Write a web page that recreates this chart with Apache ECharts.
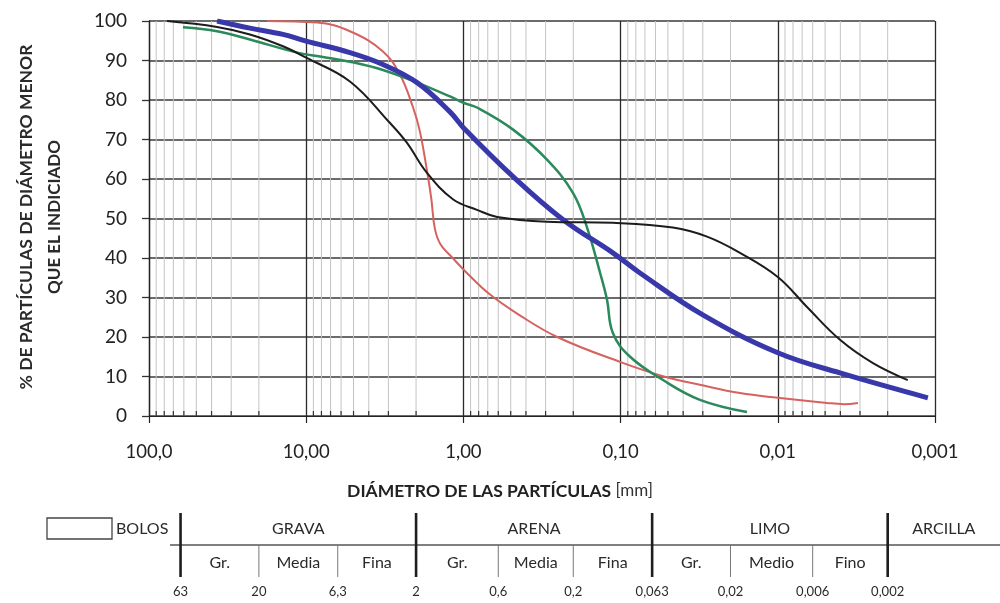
<!DOCTYPE html>
<html>
<head>
<meta charset="utf-8">
<script src="https://cdn.jsdelivr.net/npm/echarts@6/dist/echarts.min.js"></script>
<style>
    html, body { margin: 0; padding: 0; background: #fff; }
    #chart { width: 1000px; height: 603px; }
</style>
</head>
<body>
<div id="chart"></div>
<script>
const FONT = 'Lato, "Open Sans", sans-serif';

/* ========== Curvas granulométricas: [diámetro mm, % que pasa] ========== */
const curvaNegra = [
    [76.7, 100], [36.9, 98.5], [22.8, 96.6], [14.05, 93.6], [10, 90.7], [5.27, 84.7],
    [2.95, 74.3], [2.29, 69.2], [1.71, 61.6], [1.16, 54.8], [0.82, 52.2], [0.61, 50.4],
    [0.294, 49.2], [0.112, 48.9], [0.0465, 47.7], [0.0282, 45.4], [0.0174, 41.3],
    [0.01, 35.2], [0.00652, 27.6], [0.00402, 19.3], [0.00248, 13.4], [0.00149, 9.1]
];
const curvaAzul = [
    [36.9, 100], [22.8, 98.2], [14.05, 96.6], [10, 94.9], [5.27, 92.0], [3.25, 89.0],
    [1.97, 84.4], [1.217, 77], [1.0, 73], [0.483, 60.6], [0.232, 49.7], [0.112, 41.3],
    [0.0753, 36.2], [0.03, 25.6], [0.01, 16.0], [0.00402, 10.9], [0.00111, 4.6]
];
const curvaRoja = [
    [17.7, 100], [8.53, 99.6], [5.27, 97.4], [3.25, 92.3], [2.53, 86.4], [2.09, 78.1],
    [1.89, 72], [1.71, 62.4], [1.6, 55], [1.52, 47.5], [1.4, 43.5], [1.17, 40],
    [0.95, 36.2], [0.68, 30.8], [0.45, 25.8], [0.253, 20], [0.101, 13.7], [0.053, 10],
    [0.0313, 7.9], [0.0174, 5.8], [0.01, 4.6], [0.00486, 3.3], [0.0038, 3.0], [0.00309, 3.3]
];
const curvaVerde = [
    [60.8, 98.4], [36.9, 97.4], [22.8, 95.3], [11.4, 92.0], [7.82, 90.9], [5.27, 89.7],
    [3.25, 87.6], [1.97, 84.4], [1.217, 80.9], [1.0, 79.3], [0.82, 78.1], [0.483, 72.5],
    [0.294, 64.9], [0.201, 56.5], [0.164, 47.9], [0.135, 36.2], [0.122, 29.4], [0.112, 21.0],
    [0.087, 15.0], [0.0537, 9.1], [0.0313, 4.1], [0.0157, 1.0]
];

// etiquetas del eje de diámetros (de 0,001 a 100)
const xTickLabels = ["0,001", "0,01", "0,10", "1,00", "10,00", "100,0"];

/* ========== Clasificación de suelos ========== */
const limitesValor = [63, 20, 6.3, 2, 0.6, 0.2, 0.063, 0.02, 0.006, 0.002];
const limitesTexto = ["63", "20", "6,3", "2", "0,6", "0,2", "0,063", "0,02", "0,006", "0,002"];
const limitesGruesos = [63, 2, 0.063, 0.002];
const grupos = ["GRAVA", "ARENA", "LIMO", "ARCILLA"];
const subgrupos = ["Gr.", "Media", "Fina", "Gr.", "Media", "Fina", "Gr.", "Medio", "Fino"];

// líneas menores de la cuadrícula logarítmica
const menores = [];
for (let e = -3; e < 2; e++) {
    for (let m = 2; m <= 9; m++) menores.push([m * Math.pow(10, e), 0]);
}

const chart = echarts.init(document.getElementById("chart"));

function curva(datos, color, ancho, z) {
    return {
        type: "line", data: datos, smooth: 0.4,
        showSymbol: false, symbol: "none", silent: true, z: z,
        lineStyle: { color: color, width: ancho }
    };
}

chart.setOption({
    animation: false,
    grid: { left: 149, right: 65, top: 21, bottom: 187 },
    xAxis: {
        type: "log", logBase: 10, min: 0.001, max: 100, inverse: true, splitNumber: 5,
        axisLine: { lineStyle: { color: "#222", width: 1.2 } },
        axisTick: { show: true, length: 7, lineStyle: { color: "#222", width: 1.2 } },
        axisLabel: {
            margin: 27, color: "#222", fontSize: 18.5, fontFamily: FONT,
            formatter: v => xTickLabels[Math.round(Math.log10(v)) + 3] || ""
        },
        splitLine: { show: true, lineStyle: { color: "#2a2a2a", width: 1.3 } }
    },
    yAxis: {
        type: "value", min: 0, max: 100, interval: 10,
        axisLine: { show: true, lineStyle: { color: "#222", width: 1.3 } },
        axisTick: { show: true, length: 7, lineStyle: { color: "#333", width: 1.3 } },
        axisLabel: { margin: 22, color: "#222", fontSize: 19, fontFamily: FONT },
        splitLine: { show: true, lineStyle: { color: "#3a3a3a", width: 1.5 } }
    },
    series: [
        {
            type: "custom", silent: true, z: 1, clip: false, data: menores,
            renderItem(params, api) {
                const v = api.value(0);
                const b = api.coord([v, 0]);
                const t = api.coord([v, 100]);
                return {
                    type: "group",
                    children: [
                        { type: "line", shape: { x1: b[0], y1: b[1], x2: t[0], y2: t[1] }, style: { stroke: "#c4c4c4", lineWidth: 1 } },
                        { type: "line", shape: { x1: b[0], y1: b[1], x2: b[0], y2: b[1] - 5 }, style: { stroke: "#333", lineWidth: 1.2 } }
                    ]
                };
            }
        },
        curva(curvaRoja, "#d6625f", 2, 3),
        curva(curvaVerde, "#2b8a5c", 2.5, 4),
        curva(curvaAzul, "#3838aa", 5, 5),
        curva(curvaNegra, "#1c1c1c", 2, 6)
    ]
});

/* ========== Títulos y tabla de clasificación ========== */
const px = v => chart.convertToPixel({ xAxisIndex: 0 }, v);
const g = [];
const texto = (x, y, t, size, weight, align, extra) => g.push(Object.assign({
    type: "text", x: x, y: y, silent: true,
    style: { text: t, fill: "#2a2a2a", font: `${weight} ${size}px ${FONT}`, textAlign: align || "center", textVerticalAlign: "middle" }
}, extra || {}));
const linea = (x1, y1, x2, y2, w, c) => g.push({
    type: "line", silent: true, shape: { x1, y1, x2, y2 }, style: { stroke: c, lineWidth: w }
});

// título eje Y (dos líneas giradas)
texto(26, 217, "% DE PARTÍCULAS DE DIÁMETRO MENOR", 17.5, "bold", "center", { rotation: Math.PI / 2 });
texto(55, 217, "QUE EL INDICIADO", 17, "bold", "center", { rotation: Math.PI / 2 });

// título eje X
g.push({
    type: "text", x: 500, y: 491, silent: true,
    style: {
        text: "{b|DIÁMETRO DE LAS PARTÍCULAS}{n| [mm]}", textAlign: "center", textVerticalAlign: "middle",
        rich: {
            b: { font: `bold 17.5px ${FONT}`, fill: "#222" },
            n: { font: `normal 17px ${FONT}`, fill: "#333" }
        }
    }
});

// recuadro de BOLOS
g.push({ type: "rect", silent: true, shape: { x: 47, y: 518, width: 65, height: 21 }, style: { fill: "none", stroke: "#444", lineWidth: 1.3 } });
texto(116, 529, "BOLOS", 16, "normal", "left");

// línea horizontal de subdivisiones
linea(170, 545, 1000, 545, 1.3, "#555");

const xs = limitesValor.map(px);
limitesValor.forEach((v, i) => {
    const x = xs[i];
    if (limitesGruesos.includes(v)) linea(x, 513, x, 577, 2.6, "#1e1e1e");
    else linea(x, 545, x, 577, 1, "#777");
    texto(x, 592, limitesTexto[i], 13, "normal");
});

// grupos principales
const bordesGrupo = limitesGruesos.map(px).concat([1000]);
grupos.forEach((t, i) => texto((bordesGrupo[i] + bordesGrupo[i + 1]) / 2, 529, t, 16, "normal"));

// subgrupos
subgrupos.forEach((t, i) => texto((xs[i] + xs[i + 1]) / 2, 563, t, 16, "normal"));

chart.setOption({ graphic: g });
</script>
</body>
</html>
